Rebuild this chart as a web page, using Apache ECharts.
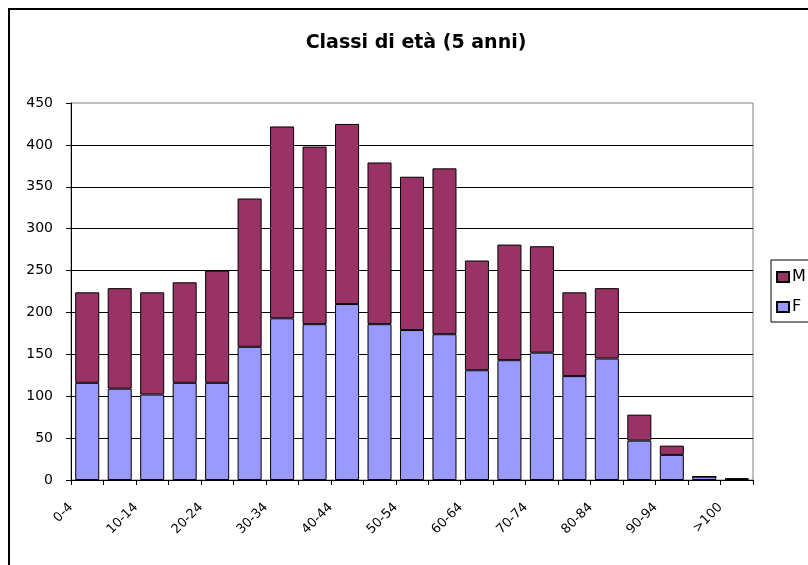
<!DOCTYPE html>
<html>
<head>
<meta charset="utf-8">
<script src="https://cdn.jsdelivr.net/npm/echarts@6/dist/echarts.min.js"></script>
<style>
  html, body { margin: 0; padding: 0; background: #fff; }
  #chart { width: 808px; height: 565px; }
</style>
</head>
<body>
<div id="chart"></div>
<script>
// Age classes in 5-year steps
var categories = ['0-4', '5-9', '10-14', '15-19', '20-24', '25-29', '30-34', '35-39',
  '40-44', '45-49', '50-54', '55-59', '60-64', '65-69', '70-74', '75-79',
  '80-84', '85-89', '90-94', '95-99', '>100'];

// Women per class (bottom of each stack)
var femmine = [116, 109, 102, 116, 116, 159, 193, 186, 210, 186, 179, 174,
  131, 143, 152, 124, 145, 47, 30, 4, 1];

// Men per class (stacked on top)
var maschi = [108, 120, 122, 120, 134, 177, 229, 212, 215, 193, 183, 198,
  131, 138, 127, 100, 84, 31, 11, 0, 1];

var yTicks = { min: 0, max: 450, step: 50 };

var font = 'DejaVu Sans, Liberation Sans, Arial, sans-serif';

var chart = echarts.init(document.getElementById('chart'), null, { renderer: 'canvas' });

chart.setOption({
  animation: false,
  backgroundColor: '#fff',
  textStyle: { fontFamily: font, color: '#000' },
  title: {
    text: 'Classi di età (5 anni)',
    left: 411,
    textAlign: 'center',
    top: 29,
    textStyle: { fontFamily: font, fontSize: 19, fontWeight: 'bold', color: '#000' }
  },
  graphic: [{
    type: 'rect',
    shape: { x: 9, y: 9, width: 900, height: 700 },
    style: { fill: null, stroke: '#000', lineWidth: 2 },
    silent: true,
    z: -10
  }],
  legend: {
    orient: 'vertical',
    left: 771,
    top: 260,
    data: ['M', 'F'],
    icon: 'rect',
    itemWidth: 12,
    itemHeight: 10,
    itemGap: 14,
    padding: [9, 40, 7, 5],
    borderColor: '#000',
    borderWidth: 1,
    textStyle: { fontFamily: font, fontSize: 16, lineHeight: 16, color: '#000', padding: [0, 0, 0, -2] }
  },
  grid: {
    left: 71,
    top: 103,
    width: 682,
    height: 377,
    show: true,
    borderColor: '#808080',
    borderWidth: 1,
    backgroundColor: '#fff'
  },
  xAxis: {
    type: 'category',
    data: categories,
    boundaryGap: true,
    axisLine: { show: true, lineStyle: { color: '#000', width: 1 } },
    axisTick: { show: true, interval: 0, length: 5, lineStyle: { color: '#000' } },
    axisLabel: {
      interval: 1,
      rotate: 45,
      margin: 9,
      fontFamily: font,
      fontSize: 13,
      color: '#000',
      padding: [0, 23, 0, 0]
    },
    splitLine: { show: false }
  },
  yAxis: {
    type: 'value',
    min: yTicks.min,
    max: yTicks.max,
    interval: yTicks.step,
    axisLine: { show: true, lineStyle: { color: '#000', width: 1 } },
    axisTick: { show: true, length: 5, lineStyle: { color: '#000' } },
    axisLabel: { fontFamily: font, fontSize: 14, color: '#000', margin: 18 },
    splitLine: { show: true, showMaxLine: false, lineStyle: { color: '#000', width: 1 } }
  },
  series: [
    {
      name: 'F',
      type: 'bar',
      stack: 'eta',
      data: femmine,
      barCategoryGap: '26%',
      itemStyle: { color: '#9999FF', borderColor: '#000', borderWidth: 1 }
    },
    {
      name: 'M',
      type: 'bar',
      stack: 'eta',
      data: maschi,
      barCategoryGap: '26%',
      itemStyle: { color: '#993366', borderColor: '#000', borderWidth: 1 }
    }
  ]
});
</script>
</body>
</html>
